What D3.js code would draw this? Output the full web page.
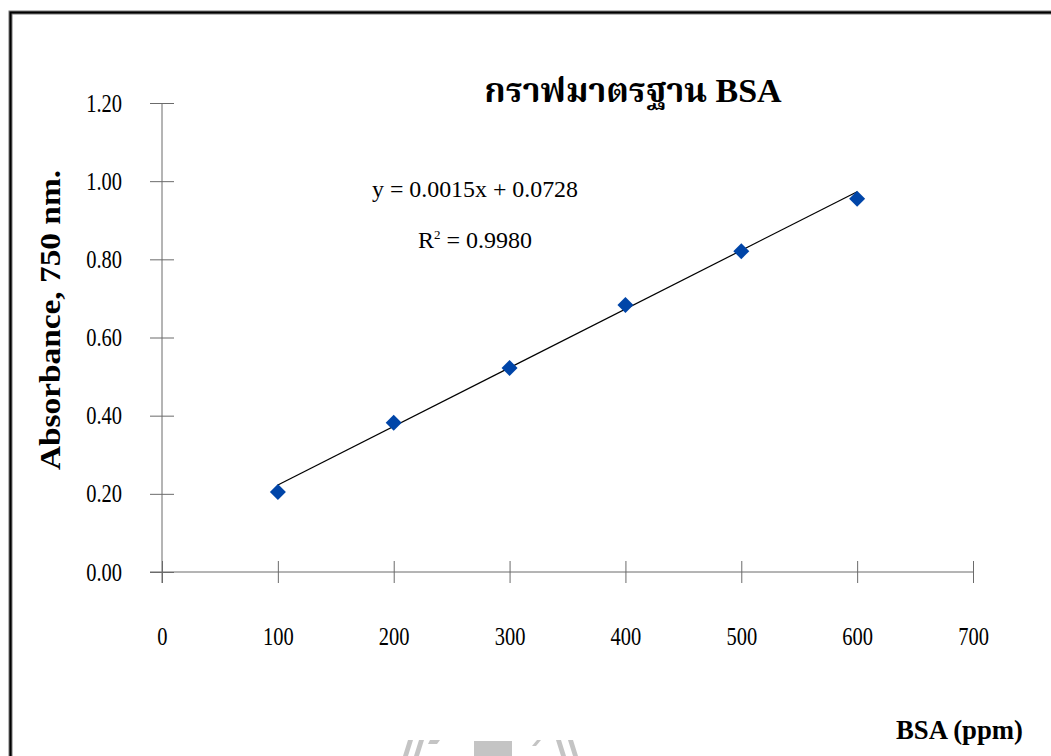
<!DOCTYPE html>
<html>
<head>
<meta charset="utf-8">
<script src="https://cdn.jsdelivr.net/npm/d3@7"></script>
<style>
  body { margin: 0; background: #fff; }
  svg text { font-family: "Liberation Serif", "Times New Roman", serif; }
  svg text.title { font-family: "Liberation Serif", "Noto Serif Thai", "Kinnari", "Norasi", "Times New Roman", serif; }
</style>
</head>
<body>
<div id="chart"></div>
<script>
// BSA standard curve data
const concentrations = [100, 200, 300, 400, 500, 600];
const absorbances = [0.205, 0.382, 0.522, 0.683, 0.821, 0.955];
const xTicks = [0, 100, 200, 300, 400, 500, 600, 700];
const yTicks = [0, 0.2, 0.4, 0.6, 0.8, 1.0, 1.2];
const slope = 0.0015, intercept = 0.0728;
const titleText = "กราฟมาตรฐาน BSA";
const eqText = "y = 0.0015x + 0.0728";

const width = 1051, height = 756;
const margin = {top: 103, right: 78, bottom: 184, left: 162};

const svg = d3.select("#chart").append("svg")
  .attr("width", width)
  .attr("height", height);

// frame around the picture
svg.append("path")
  .attr("d", "M10.5," + height + " V12.5 H" + width)
  .attr("fill", "none")
  .attr("stroke", "#777")
  .attr("stroke-width", 4);
svg.append("path")
  .attr("d", "M10.5," + height + " V12.5 H" + width)
  .attr("fill", "none")
  .attr("stroke", "#000")
  .attr("stroke-width", 2);

var x = d3.scaleLinear().domain([0, 700]).range([margin.left, width - margin.right]);
var y = d3.scaleLinear().domain([0, 1.2]).range([height - margin.bottom, margin.top]);

const axisColor = "#6b6b6b";
const squeeze = 0.82; // tick labels look tall & narrow in the original

// x axis (ticks cross the line)
var xg = svg.append("g")
  .attr("transform", "translate(0," + y(0) + ")")
  .call(d3.axisBottom(x).tickValues(xTicks).tickSize(11).tickSizeOuter(0).tickFormat(d3.format("d")));
xg.select(".domain").attr("d", "M150,0H" + x(700)).attr("stroke", axisColor);
xg.selectAll(".tick line").attr("y1", -11).attr("stroke", axisColor);
xg.selectAll(".tick text")
  .attr("y", 55)
  .attr("font-size", 25)
  .attr("transform", "scale(" + squeeze + ",1)")
  .attr("fill", "#000");

// y axis
var yg = svg.append("g")
  .attr("transform", "translate(" + x(0) + ",0)")
  .call(d3.axisLeft(y).tickValues(yTicks).tickSize(12).tickSizeOuter(0).tickFormat(d3.format(".2f")));
yg.select(".domain").attr("d", "M0," + y(1.2) + "V" + (y(0) + 11)).attr("stroke", axisColor);
yg.selectAll(".tick line").attr("x1", 12).attr("stroke", axisColor);
yg.selectAll(".tick text")
  .attr("x", -40 / squeeze)
  .attr("font-size", 25)
  .attr("transform", "scale(" + squeeze + ",1)")
  .attr("fill", "#000");

// trendline
svg.append("line")
  .attr("x1", x(100)).attr("y1", y(slope * 100 + intercept))
  .attr("x2", x(600)).attr("y2", y(slope * 600 + intercept))
  .attr("stroke", "#000")
  .attr("stroke-width", 1.2);

// points
svg.append("g")
  .selectAll("path")
  .data(concentrations)
  .enter()
  .append("path")
    .attr("transform", (d, i) => "translate(" + x(d) + "," + y(absorbances[i]) + ")")
    .attr("d", "M0,-8L8,0L0,8L-8,0Z")
    .attr("fill", "#0045a8");

// title
svg.append("text")
  .attr("class", "title")
  .attr("x", 633).attr("y", 102)
  .attr("text-anchor", "middle")
  .attr("font-size", 34)
  .attr("font-weight", "bold")
  .text(titleText);

// equation + r squared
svg.append("text")
  .attr("x", 475).attr("y", 197)
  .attr("text-anchor", "middle")
  .attr("font-size", 24)
  .attr("textLength", 206)
  .attr("lengthAdjust", "spacingAndGlyphs")
  .text(eqText);
var r2 = svg.append("text")
  .attr("x", 475).attr("y", 248)
  .attr("text-anchor", "middle")
  .attr("font-size", 24);
r2.append("tspan").text("R");
r2.append("tspan").attr("font-size", 13).attr("dy", -9).text("2");
r2.append("tspan").attr("dy", 9).text(" = 0.9980");

// axis titles
svg.append("text")
  .attr("transform", "translate(60,320) rotate(-90)")
  .attr("text-anchor", "middle")
  .attr("font-size", 29)
  .attr("font-weight", "bold")
  .attr("textLength", 300)
  .attr("lengthAdjust", "spacingAndGlyphs")
  .text("Absorbance, 750 nm.");

svg.append("text")
  .attr("x", 1023).attr("y", 739)
  .attr("text-anchor", "end")
  .attr("font-size", 28)
  .attr("font-weight", "bold")
  .attr("textLength", 127)
  .attr("lengthAdjust", "spacingAndGlyphs")
  .text("BSA (ppm)");

// faint watermark shapes at the bottom edge
var wm = svg.append("g").attr("fill", "#c4c4c4");
wm.append("path").attr("d", "M403,756 L408,740 L413,740 L408,756Z");
wm.append("path").attr("d", "M414,756 L419,740 L424,740 L419,756Z");
wm.append("path").attr("d", "M428,744 L430,740 L440,740 L437,744Z");
wm.append("rect").attr("x", 474).attr("y", 741).attr("width", 38).attr("height", 15);
wm.append("path").attr("d", "M532,746 L537,740 L541,740 L536,746Z");
wm.append("path").attr("d", "M556,740 L561,740 L566,756 L561,756Z");
wm.append("path").attr("d", "M568,740 L573,740 L578,756 L573,756Z");
</script>
</body>
</html>
